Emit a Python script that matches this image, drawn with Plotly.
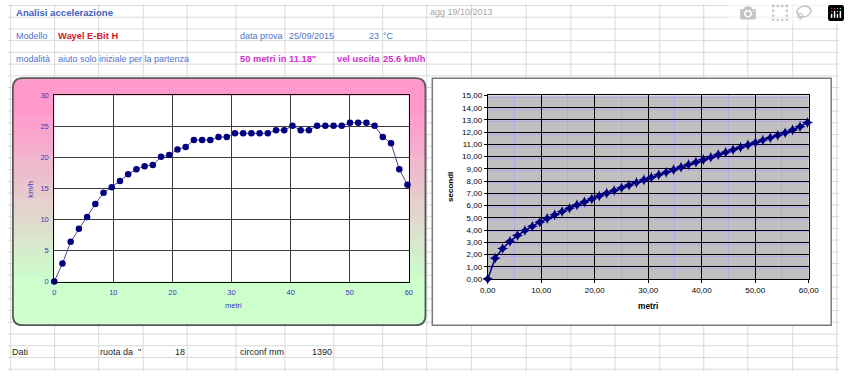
import math
import plotly.graph_objects as go

# ---------------- data ----------------
metri = [0.00, 1.39, 2.78, 4.17, 5.56, 6.95, 8.34, 9.73, 11.12, 12.51, 13.90, 15.29,
         16.68, 18.07, 19.46, 20.85, 22.24, 23.63, 25.02, 26.41, 27.80, 29.19, 30.58,
         31.97, 33.36, 34.75, 36.14, 37.53, 38.92, 40.31, 41.70, 43.09, 44.48, 45.87,
         47.26, 48.65, 50.04, 51.43, 52.82, 54.21, 55.60, 56.99, 58.38, 59.77]
kmh = [0, 2.9, 6.4, 8.5, 10.4, 12.5, 14.3, 15.2, 16.2, 17.3, 18.1, 18.6, 18.8, 20.1,
       20.4, 21.3, 21.7, 22.8, 22.8, 22.8, 23.3, 23.3, 23.9, 23.9, 23.9, 23.9, 23.9,
       24.4, 24.4, 25.1, 24.4, 24.4, 25.1, 25.1, 25.1, 25.1, 25.6, 25.6, 25.6, 25.1,
       23.3, 22.3, 18.1, 15.6]
secondi = [0.00, 1.70, 2.49, 3.08, 3.56, 3.96, 4.31, 4.64, 4.95, 5.24, 5.51, 5.78,
           6.05, 6.30, 6.54, 6.78, 7.01, 7.23, 7.45, 7.67, 7.88, 8.10, 8.30, 8.51,
           8.72, 8.93, 9.14, 9.35, 9.55, 9.75, 9.95, 10.16, 10.36, 10.56, 10.76,
           10.96, 11.15, 11.35, 11.54, 11.74, 11.95, 12.18, 12.45, 12.78]

W, H = 850, 377
FONT = "Liberation Sans, Arial, sans-serif"

def px(x):
    return x / W

def py(y):
    return 1 - y / H

shapes = []

# ---------------- spreadsheet grid (drawn first, boxes cover it) ----------------
GRID = "#D9D9D9"
cols = [2.7, 47.7, 92.7, 138.3, 183.3, 233.3, 283.3, 333.3, 383.3, 428.3, 474,
        530, 575.7, 621, 666.7, 711.7, 756.7, 802.7, 847.7]
rows = [1.5 + 12.02 * k for k in range(32)]
for y in rows:
    shapes.append(dict(type="line", xref="paper", yref="paper", x0=0, x1=1,
                       y0=py(y), y1=py(y), line=dict(color=GRID, width=1), layer="below"))
for x in cols:
    shapes.append(dict(type="line", xref="paper", yref="paper", x0=px(x), x1=px(x),
                       y0=0, y1=1, line=dict(color=GRID, width=1), layer="below"))

# ---------------- left box: vertical pink->green gradient, rounded ----------------
LB = (5, 76, 427, 329)
RAD = 10
PINK = (255, 153, 204)
GREEN = (204, 255, 204)
T0, T1 = 0.15, 0.82
hgt = LB[3] - LB[1]
for j in range(hgt):
    yc = j + 0.5
    t = yc / hgt
    u = min(1.0, max(0.0, (t - T0) / (T1 - T0)))
    c = tuple(int(round(PINK[k] + (GREEN[k] - PINK[k]) * u)) for k in range(3))
    d = min(yc, hgt - yc)
    inset = 0.0
    if d < RAD:
        inset = RAD - math.sqrt(max(0.0, RAD * RAD - (RAD - d) ** 2))
    ybot = LB[1] + j + (1.6 if j < hgt - 1 else 1.0)
    shapes.append(dict(type="rect", xref="paper", yref="paper",
                       x0=px(LB[0] + inset), x1=px(LB[2] - inset),
                       y0=py(LB[1] + j), y1=py(ybot),
                       fillcolor="rgb(%d,%d,%d)" % c, line=dict(width=0), layer="below"))

def rounded_path(x0, y0, x1, y1, r):
    P = lambda x, y: f"{px(x):.5f},{py(y):.5f}"
    return (f"M {P(x0 + r, y0)} L {P(x1 - r, y0)} Q {P(x1, y0)} {P(x1, y0 + r)} "
            f"L {P(x1, y1 - r)} Q {P(x1, y1)} {P(x1 - r, y1)} "
            f"L {P(x0 + r, y1)} Q {P(x0, y1)} {P(x0, y1 - r)} "
            f"L {P(x0, y0 + r)} Q {P(x0, y0)} {P(x0 + r, y0)} Z")

shapes.append(dict(type="path", xref="paper", yref="paper",
                   path=rounded_path(*LB, RAD), line=dict(color="#5A5A5A", width=1.8),
                   layer="below"))

# ---------------- right box ----------------
RB = (434, 76, 842, 329)
shapes.append(dict(type="rect", xref="paper", yref="paper",
                   x0=px(RB[0]), x1=px(RB[2]), y0=py(RB[1]), y1=py(RB[3]),
                   fillcolor="white", line=dict(color="#7A7A7A", width=1.5), layer="below"))

# plot areas (pixels)
L_PA = (47.3, 93.7, 410.0, 284.3)
R_PA = (490.7, 93.7, 819.0, 281.7)
shapes.append(dict(type="rect", xref="paper", yref="paper",
                   x0=px(L_PA[0]), x1=px(L_PA[2]), y0=py(L_PA[1]), y1=py(L_PA[3]),
                   fillcolor="white", line=dict(width=0), layer="below"))
shapes.append(dict(type="rect", xref="paper", yref="paper",
                   x0=px(R_PA[0]), x1=px(R_PA[2]), y0=py(R_PA[1]), y1=py(R_PA[3]),
                   fillcolor="#C0C0C0", line=dict(width=0), layer="below"))

# ---------------- traces ----------------
fig = go.Figure()
fig.add_trace(go.Scatter(x=metri, y=kmh, mode="lines+markers", xaxis="x", yaxis="y",
                         line=dict(color="#4B4B8C", width=1),
                         marker=dict(color="#000080", size=6.5, symbol="circle"),
                         cliponaxis=False, showlegend=False, hoverinfo="x+y"))
fig.add_trace(go.Scatter(x=metri, y=secondi, mode="lines+markers", xaxis="x2", yaxis="y2",
                         line=dict(color="#000080", width=1.5),
                         marker=dict(color="#000080", size=8, symbol="star-diamond"),
                         cliponaxis=False, showlegend=False, hoverinfo="x+y"))

LTICK = "#3A36C8"
axL = dict(showgrid=True, gridcolor="#3A3A3A", gridwidth=1, zeroline=False,
           showline=True, linecolor="#000000", linewidth=1, mirror=True,
           ticks="outside", ticklen=3, tickcolor="rgba(0,0,0,0)",
           tickfont=dict(family=FONT, size=7.5, color=LTICK), fixedrange=True)
axR = dict(showgrid=True, gridcolor="#000000", gridwidth=1, zeroline=False,
           showline=True, linecolor="#000000", linewidth=1, mirror=True,
           ticks="outside", ticklen=3, tickcolor="#000000", tickwidth=1,
           tickformat=".2f",
           tickfont=dict(family=FONT, size=8, color="#000000"), fixedrange=True)

fig.update_layout(
    width=W, height=H, autosize=False,
    margin=dict(l=0, r=0, t=0, b=0, pad=0),
    paper_bgcolor="white", plot_bgcolor="rgba(0,0,0,0)",
    separators=",.",
    showlegend=False,
    xaxis=dict(axL, domain=[px(L_PA[0]), px(L_PA[2])], range=[0, 60], tick0=0, dtick=10,
               anchor="y"),
    yaxis=dict(axL, domain=[py(L_PA[3]), py(L_PA[1])], range=[0, 30], tick0=0, dtick=5,
               anchor="x"),
    xaxis2=dict(axR, domain=[px(R_PA[0]), px(R_PA[2])], range=[0, 60], tick0=0, dtick=10,
                anchor="y2",
                minor=dict(tick0=0, dtick=5, showgrid=True, gridcolor="#B9A6EC",
                           gridwidth=1)),
    yaxis2=dict(axR, domain=[py(R_PA[3]), py(R_PA[1])], range=[0, 15], tick0=0, dtick=1,
                anchor="x2",
                minor=dict(tick0=-0.15, dtick=1, showgrid=True, gridcolor="#B9A6EC",
                           gridwidth=1)),
    shapes=shapes,
)

# ---------------- texts ----------------
BLUE = "#4F72CC"
TBLUE = "#3F62C2"
RED = "#D0202E"
MAG = "#D22ED2"
GREY = "#A6A6A6"
DARK = "#1E1E1E"

def txt(s, x, y, size=9, color=BLUE, bold=False, anchor="left", angle=0):
    fig.add_annotation(text=f"<b>{s}</b>" if bold else s, x=px(x), y=py(y),
                       xref="paper", yref="paper", xanchor=anchor, yanchor="middle",
                       showarrow=False, textangle=angle, borderpad=0,
                       font=dict(family=FONT, size=size, color=color))

txt("Analisi accelerazione", 7, 8.3, 9.6, TBLUE, True)
txt("agg 19/10/2013", 431, 8.3, 9, GREY)
txt("Modello", 7, 32.5)
txt("Wayel E-Bit H", 50, 32.5, 9.3, RED, True)
txt("data prova", 236, 32.5)
txt("25/09/2015", 286, 32.5)
txt("23", 380.5, 32.5, anchor="right")
txt("°C", 383, 32.5)
txt("modalità", 7, 56.5)
txt("aiuto solo iniziale per la partenza", 50, 56.5)
txt("50 metri in 11.18\"", 236, 56.5, 9.3, MAG, True)
txt("vel uscita", 335, 56.5, 9.3, MAG, True)
txt("25.6 km/h", 383, 56.5, 9.3, MAG, True)

txt("Dati", 3.5, 356.7, 9, DARK)
txt("ruota da  \"", 93, 356.7, 9, DARK)
txt("18", 181.7, 356.7, 9, DARK, anchor="right")
txt("circonf mm", 236, 356.7, 9, DARK)
txt("1390", 332.3, 356.7, 9, DARK, anchor="right")

# axis titles
txt("km/h", 22.7, 190, 7.7, LTICK, False, "center", -90)
txt("metri", 231, 309.3, 7.5, LTICK, False, "center")
txt("secondi", 452.5, 187, 8, "#000000", True, "center", -90)
txt("metri", 655, 309.3, 8.3, "#000000", True, "center")

# remove the default page margin right away (runs synchronously, not after the plot promise)
fig.write_html("out.html",
               post_script="});document.body.style.margin='0';"
                           "document.body.style.padding='0';(function(){")
